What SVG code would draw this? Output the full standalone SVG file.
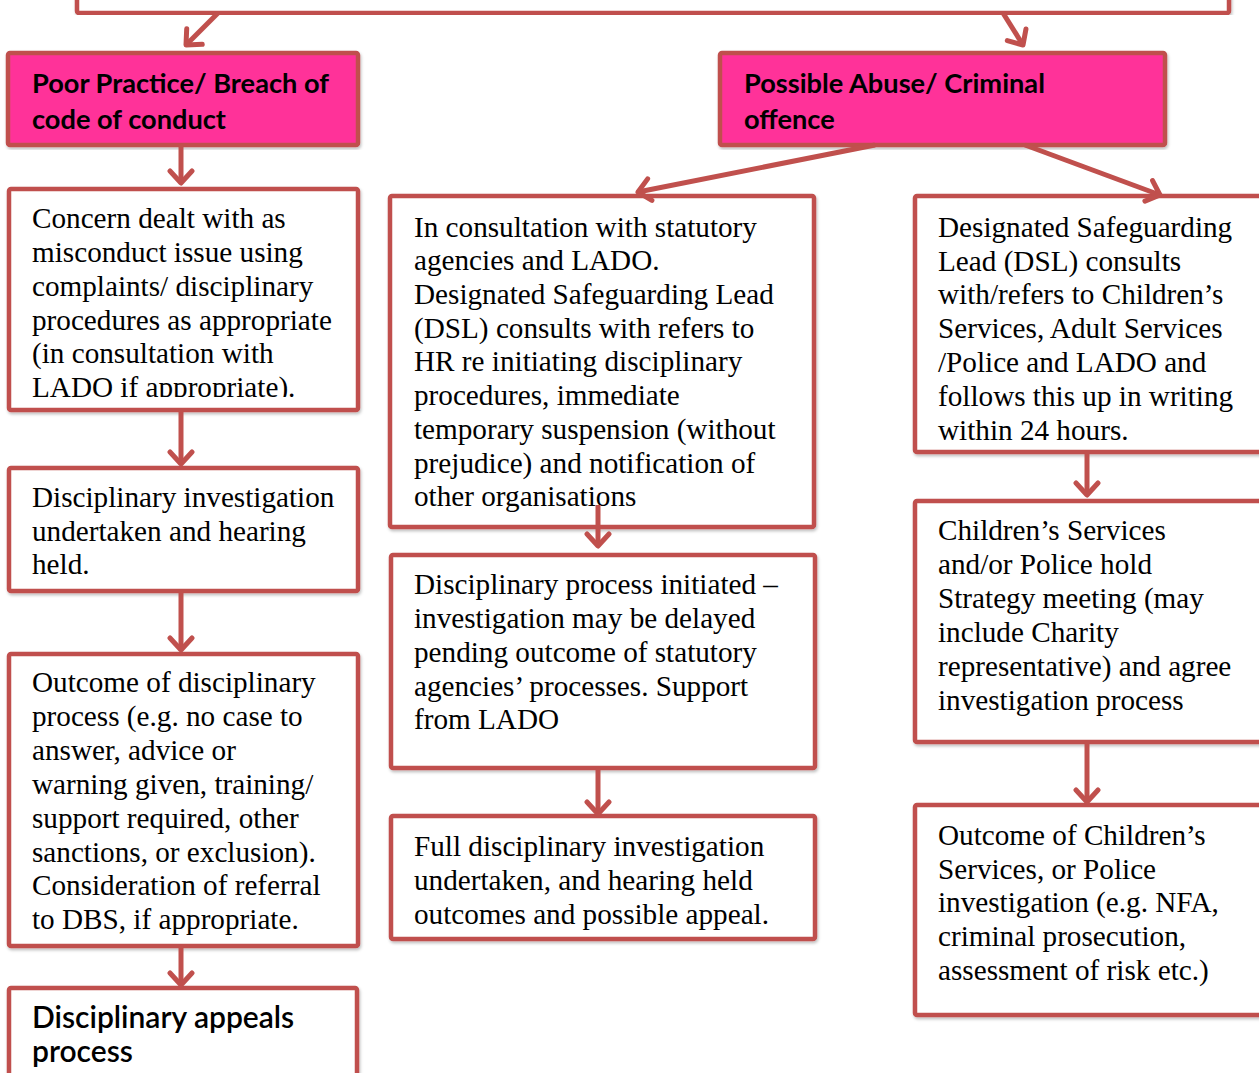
<svg xmlns="http://www.w3.org/2000/svg" width="1259" height="1073" viewBox="0 0 1259 1073">
<style>
.box{fill:#fff;stroke:#C0504D;stroke-width:4.5}
.pink{fill:#FF3399;stroke:#C0504D;stroke-width:4.5}
.t{font-family:"Liberation Serif","Times New Roman",serif;font-size:29.2px;fill:#000}
.h{font-family:Lato,"Open Sans",sans-serif;font-weight:bold;font-size:27.2px;fill:#000}
.a{font-family:Lato,"Open Sans",sans-serif;font-size:30px;fill:#000;font-weight:600}
.c{stroke:#C0504D;stroke-width:5;fill:none;marker-end:url(#ah)}
</style>
<defs>
<marker id="ah" markerUnits="userSpaceOnUse" markerWidth="30" markerHeight="30" refX="15" refY="15" orient="auto" viewBox="0 0 30 30">
<path d="M3,4 L15,15 L3,26" fill="none" stroke="#C0504D" stroke-width="5" stroke-linecap="round" stroke-linejoin="round"/>
</marker>
<clipPath id="cl1"><rect x="11" y="191" width="345" height="206"/></clipPath>
<filter id="sh" x="-5%" y="-5%" width="110%" height="110%"><feDropShadow dx="1" dy="2" stdDeviation="1.5" flood-color="#000" flood-opacity="0.25"/></filter>
</defs>
<g id="top"><rect class="box" x="77" y="-20" width="1152" height="33" rx="2" filter="url(#sh)"/></g>
<g id="n1"><rect class="pink" x="8" y="53" width="350" height="92" rx="2" filter="url(#sh)"/>
<text class="h" x="32" y="93">Poor Practice/ Breach of</text><text class="h" x="32" y="129">code of conduct</text></g>
<g id="n2"><rect class="pink" x="720" y="53" width="445" height="92" rx="2" filter="url(#sh)"/>
<text class="h" x="744" y="93">Possible Abuse/ Criminal</text><text class="h" x="744" y="129">offence</text></g>
<g id="n3"><rect class="box" x="9" y="189" width="349" height="221" rx="2" filter="url(#sh)"/>
<g clip-path="url(#cl1)"><text class="t" x="32" y="228">Concern dealt with as</text><text class="t" x="32" y="262">misconduct issue using</text><text class="t" x="32" y="296">complaints/ disciplinary</text><text class="t" x="32" y="330">procedures as appropriate</text><text class="t" x="32" y="363">(in consultation with</text><text class="t" x="32" y="397">LADO if appropriate).</text></g></g>
<g id="n4"><rect class="box" x="9" y="468" width="349" height="123" rx="2" filter="url(#sh)"/>
<text class="t" x="32" y="507">Disciplinary investigation</text><text class="t" x="32" y="541">undertaken and hearing</text><text class="t" x="32" y="574">held.</text></g>
<g id="n5"><rect class="box" x="9" y="654" width="349" height="292" rx="2" filter="url(#sh)"/>
<text class="t" x="32" y="692">Outcome of disciplinary</text><text class="t" x="32" y="726">process (e.g. no case to</text><text class="t" x="32" y="760">answer, advice or</text><text class="t" x="32" y="794">warning given, training/</text><text class="t" x="32" y="828">support required, other</text><text class="t" x="32" y="862">sanctions, or exclusion).</text><text class="t" x="32" y="895">Consideration of referral</text><text class="t" x="32" y="929">to DBS, if appropriate.</text></g>
<g id="n6"><rect class="box" x="9" y="988" width="348" height="110" rx="2" filter="url(#sh)"/>
<text class="a" x="32" y="1028">Disciplinary appeals</text><text class="a" x="32" y="1062">process</text></g>
<g id="n7"><rect class="box" x="390" y="196" width="424" height="331" rx="2" filter="url(#sh)"/>
<text class="t" x="414" y="237">In consultation with statutory</text><text class="t" x="414" y="270">agencies and LADO.</text><text class="t" x="414" y="304">Designated Safeguarding Lead</text><text class="t" x="414" y="338">(DSL) consults with refers to</text><text class="t" x="414" y="371">HR re initiating disciplinary</text><text class="t" x="414" y="405">procedures, immediate</text><text class="t" x="414" y="439">temporary suspension (without</text><text class="t" x="414" y="473">prejudice) and notification of</text><text class="t" x="414" y="506">other organisations</text></g>
<g id="n8"><rect class="box" x="391" y="555" width="424" height="213" rx="2" filter="url(#sh)"/>
<text class="t" x="414" y="594">Disciplinary process initiated –</text><text class="t" x="414" y="628">investigation may be delayed</text><text class="t" x="414" y="662">pending outcome of statutory</text><text class="t" x="414" y="696">agencies’ processes. Support</text><text class="t" x="414" y="729">from LADO</text></g>
<g id="n9"><rect class="box" x="391" y="816" width="424" height="123" rx="2" filter="url(#sh)"/>
<text class="t" x="414" y="856">Full disciplinary investigation</text><text class="t" x="414" y="890">undertaken, and hearing held</text><text class="t" x="414" y="924">outcomes and possible appeal.</text></g>
<g id="n10"><rect class="box" x="915" y="196" width="360" height="256" rx="2" filter="url(#sh)"/>
<text class="t" x="938" y="237">Designated Safeguarding</text><text class="t" x="938" y="271">Lead (DSL) consults</text><text class="t" x="938" y="304">with/refers to Children’s</text><text class="t" x="938" y="338">Services, Adult Services</text><text class="t" x="938" y="372">/Police and LADO and</text><text class="t" x="938" y="406">follows this up in writing</text><text class="t" x="938" y="440">within 24 hours.</text></g>
<g id="n11"><rect class="box" x="915" y="501" width="360" height="241" rx="2" filter="url(#sh)"/>
<text class="t" x="938" y="540">Children’s Services</text><text class="t" x="938" y="574">and/or Police hold</text><text class="t" x="938" y="608">Strategy meeting (may</text><text class="t" x="938" y="642">include Charity</text><text class="t" x="938" y="676">representative) and agree</text><text class="t" x="938" y="710">investigation process</text></g>
<g id="n12"><rect class="box" x="915" y="805" width="360" height="210" rx="2" filter="url(#sh)"/>
<text class="t" x="938" y="845">Outcome of Children’s</text><text class="t" x="938" y="879">Services, or Police</text><text class="t" x="938" y="912">investigation (e.g. NFA,</text><text class="t" x="938" y="946">criminal prosecution,</text><text class="t" x="938" y="980">assessment of risk etc.)</text></g>
<g id="connectors">
<path class="c" d="M218,13 L186,45"/>
<path class="c" d="M1003,13 L1023,45"/>
<path class="c" d="M181,145 L181,183"/>
<path class="c" d="M875,145 L638,192"/>
<path class="c" d="M1025,145 L1160,195"/>
<path class="c" d="M181,410 L181,464"/>
<path class="c" d="M181,591 L181,650"/>
<path class="c" d="M181,946 L181,985"/>
<path class="c" d="M598,505 L598,546"/>
<path class="c" d="M598,768 L598,814"/>
<path class="c" d="M1087,452 L1087,495"/>
<path class="c" d="M1087,742 L1087,802"/>
</g>
</svg>
